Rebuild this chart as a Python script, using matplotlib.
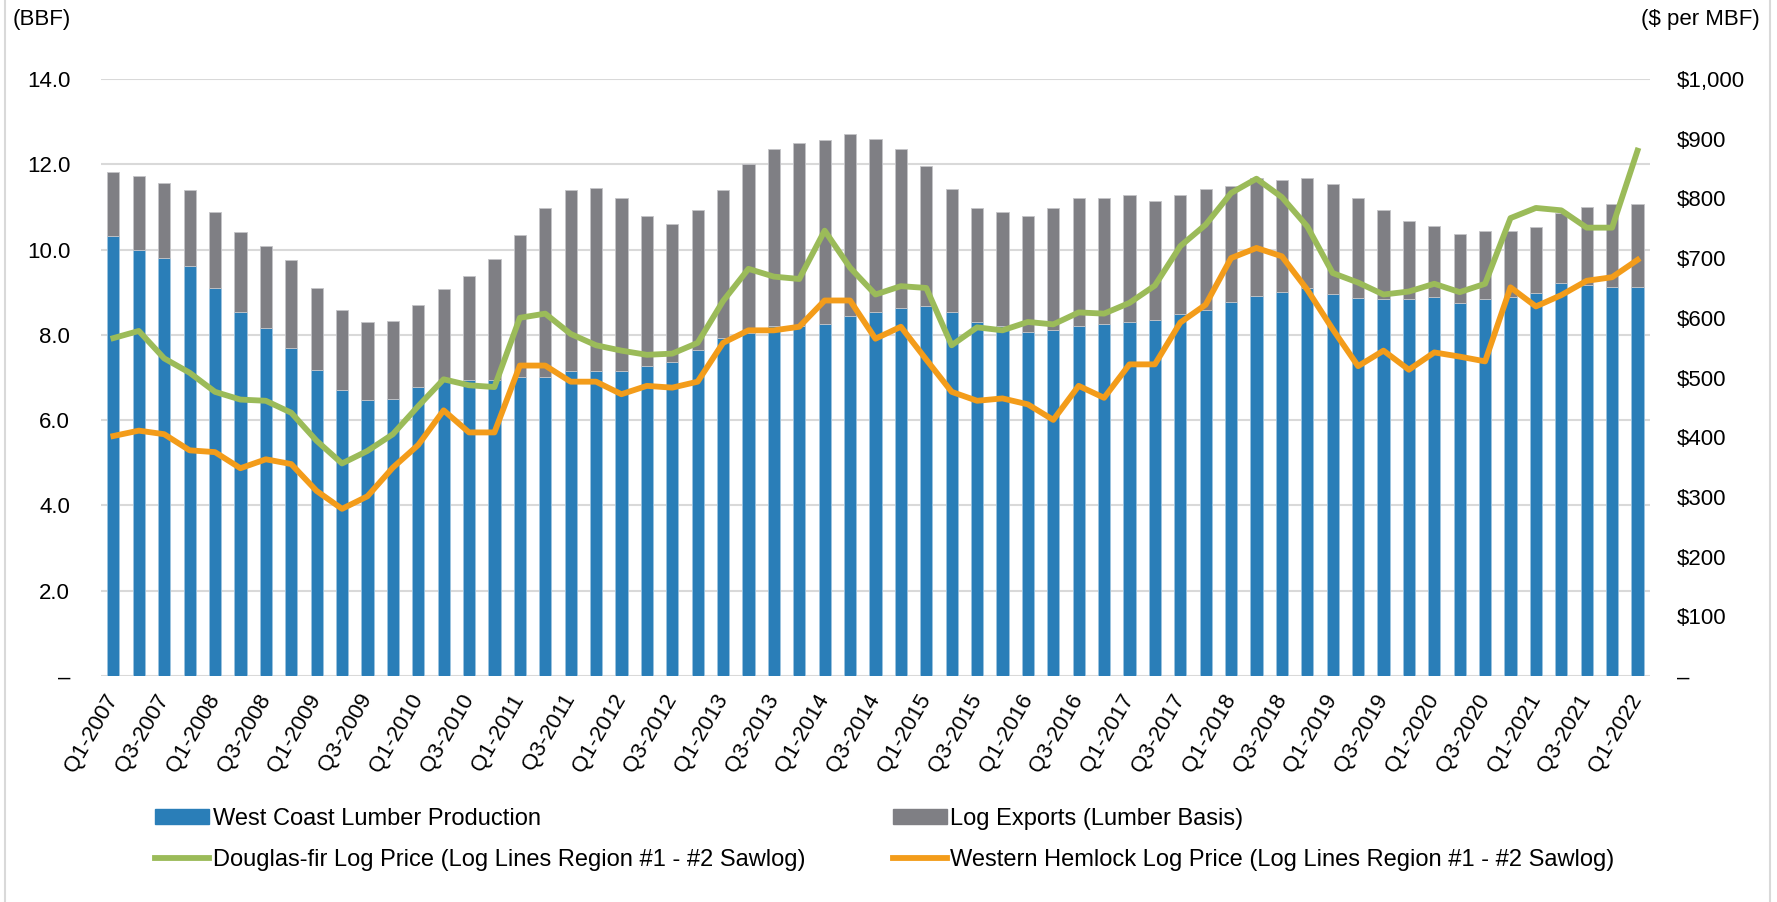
import numpy as np
import matplotlib.pyplot as plt
from matplotlib.lines import Line2D

plt.rcParams['font.family'] = ['Liberation Sans', 'DejaVu Sans']

quarters = [f"Q{q}-{y}" for y in range(2007, 2023) for q in range(1, 5)][:61]

# billion board feet
production = [10.31, 9.98, 9.80, 9.61, 9.10, 8.53, 8.16, 7.69, 7.18, 6.71,
              6.48, 6.50, 6.78, 6.93, 6.93, 6.93, 7.01, 7.01, 7.15, 7.15,
              7.15, 7.27, 7.36, 7.65, 7.93, 8.05, 8.21, 8.21, 8.26, 8.44,
              8.53, 8.63, 8.67, 8.53, 8.30, 8.21, 8.07, 8.11, 8.21, 8.26,
              8.30, 8.35, 8.49, 8.58, 8.77, 8.91, 9.00, 9.10, 8.96, 8.86,
              8.84, 8.84, 8.88, 8.75, 8.84, 8.89, 8.98, 9.21, 9.18, 9.12, 9.12]

exports = [1.50, 1.74, 1.77, 1.78, 1.78, 1.88, 1.92, 2.06, 1.92, 1.87,
           1.82, 1.82, 1.92, 2.14, 2.46, 2.84, 3.32, 3.97, 4.25, 4.30,
           4.06, 3.51, 3.23, 3.27, 3.46, 3.95, 4.16, 4.30, 4.30, 4.26,
           4.07, 3.74, 3.28, 2.90, 2.67, 2.66, 2.71, 2.86, 2.99, 2.94,
           2.99, 2.80, 2.80, 2.85, 2.71, 2.76, 2.62, 2.57, 2.58, 2.34,
           2.09, 1.82, 1.68, 1.62, 1.59, 1.54, 1.54, 1.64, 1.81, 1.96, 1.96]

# $ per MBF
douglas_fir = [566, 578, 532, 508, 476, 463, 461, 441, 394, 356,
               377, 405, 452, 497, 487, 484, 600, 607, 573, 554,
               545, 538, 540, 558, 628, 682, 669, 665, 746, 684,
               639, 653, 650, 554, 584, 579, 593, 589, 609, 607,
               625, 654, 720, 756, 809, 833, 802, 753, 675, 659,
               639, 644, 657, 643, 657, 767, 784, 780, 751, 751, 880]

hemlock = [402, 411, 405, 378, 375, 348, 363, 355, 310, 280,
           301, 349, 387, 445, 408, 408, 520, 520, 493, 493,
           472, 486, 483, 493, 558, 579, 579, 585, 629, 629,
           565, 585, 530, 476, 461, 465, 455, 429, 486, 466,
           522, 522, 592, 622, 700, 717, 703, 647, 581, 519,
           545, 513, 542, 535, 527, 651, 619, 638, 662, 668, 697]

blue = '#2A7EB8'
grey = '#7F7F84'
green = '#9BBB59'
orange = '#F39C1A'
fs = 16

fig = plt.figure(figsize=(17.77, 9.02), dpi=100)
ax = fig.add_axes([100.7/1777, 1-676/902, 1549.5/1777, 597/902])
ax2 = ax.twinx()

x = np.arange(len(quarters))
ax.bar(x, production, width=0.48, color=blue, edgecolor='#9CC3DF', linewidth=0.6, zorder=2)
ax.bar(x, exports, width=0.48, bottom=production, color=grey, edgecolor='#C4C4C8', linewidth=0.6, zorder=2)

ax2.plot(x, douglas_fir, color=green, lw=4.2, solid_joinstyle='round')
ax2.plot(x, hemlock, color=orange, lw=4.2, solid_joinstyle='round')

ax.set_xlim(-0.5, len(quarters)-0.5)
ax.set_ylim(0, 14)
ax2.set_ylim(0, 1000)

ax.set_yticks(np.arange(0, 15, 2))
ax.set_yticklabels(['–'] + [f"{v:.1f}" for v in np.arange(2, 15, 2)], fontsize=fs)
ax2.set_yticks(np.arange(0, 1001, 100))
ax2.set_yticklabels(['–'] + [f"${v:,}" for v in range(100, 1001, 100)], fontsize=fs)

ax.set_xticks(x[::2])
ax.set_xticklabels(quarters[::2], rotation=60, ha='right', va='center',
                   rotation_mode='anchor', fontsize=fs)

ax.grid(axis='y', color='#D9D9D9', lw=1.5, zorder=0)
ax.set_axisbelow(True)
for a in [ax, ax2]:
    for s in a.spines.values():
        s.set_visible(False)
    a.tick_params(length=0)
ax.tick_params(axis='y', pad=22)
ax.tick_params(axis='x', pad=14)
ax2.tick_params(axis='y', pad=19)

fig.text(13/1777, 1-20/902, "(BBF)", fontsize=fs, va='center', ha='left')
fig.text(1760/1777, 1-20/902, "($ per MBF)", fontsize=fs, va='center', ha='right')

handles = [plt.Rectangle((0, 0), 1, 1, color=blue),
           Line2D([0], [0], color=green, lw=4.2),
           plt.Rectangle((0, 0), 1, 1, color=grey),
           Line2D([0], [0], color=orange, lw=4.2)]
labels = ["West Coast Lumber Production",
          "Douglas-fir Log Price (Log Lines Region #1 - #2 Sawlog)",
          "Log Exports (Lumber Basis)",
          "Western Hemlock Log Price (Log Lines Region #1 - #2 Sawlog)"]
fig.legend(handles, labels, ncol=2, loc='upper left', bbox_to_anchor=(143/1777, 1-796/902),
           frameon=False, fontsize=17, borderpad=0, handlelength=2.3, handleheight=0.6,
           handletextpad=0.15, columnspacing=3.7, labelspacing=0.8)

# light frame at the sides of the picture
fig.add_artist(Line2D([4.5/1777, 4.5/1777], [0, 1], color='#D9D9D9', lw=1.5))
fig.add_artist(Line2D([1769.5/1777, 1769.5/1777], [0, 1], color='#D9D9D9', lw=1.5))

plt.savefig("out.png", dpi=100)
plt.close()
